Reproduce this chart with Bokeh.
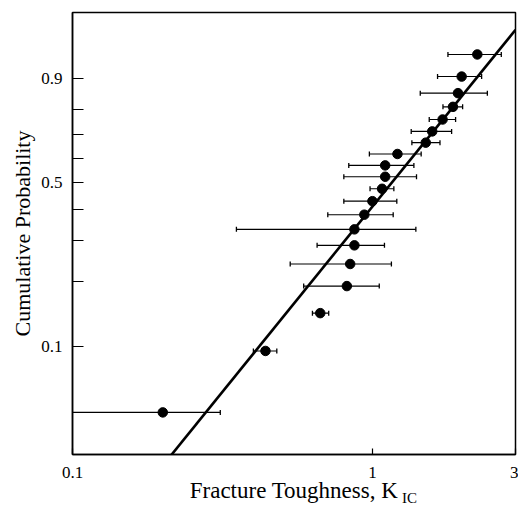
import numpy as np
from bokeh.plotting import figure
from bokeh.models import (ColumnDataSource, Range1d, FixedTicker, CustomJSTickFormatter,
                          Whisker, TeeHead, LogAxis)
from bokeh.embed import file_html
from bokeh.resources import INLINE

# ---- data ----
cum_prob = [0.048, 0.095, 0.143, 0.190, 0.238, 0.286, 0.333, 0.381, 0.429, 0.476,
            0.524, 0.571, 0.619, 0.667, 0.714, 0.762, 0.810, 0.857, 0.905, 0.952]
k_ic = [0.200, 0.440, 0.670, 0.822, 0.843, 0.871, 0.871, 0.940, 1.000, 1.077,
        1.103, 1.103, 1.212, 1.506, 1.583, 1.714, 1.856, 1.929, 1.984, 2.238]
k_ic_low = [0.090, 0.401, 0.631, 0.590, 0.532, 0.654, 0.352, 0.710, 0.803, 0.982,
            0.803, 0.834, 0.977, 1.354, 1.347, 1.547, 1.719, 1.444, 1.649, 1.786]
k_ic_high = [0.311, 0.480, 0.715, 1.054, 1.157, 1.097, 1.396, 1.173, 1.206, 1.179,
             1.403, 1.375, 1.454, 1.680, 1.837, 1.894, 1.999, 2.417, 2.313, 2.690]

prob_major_ticks = [0.1, 0.5, 0.9]
prob_minor_ticks = [0.2, 0.3, 0.4, 0.6, 0.7, 0.8]
k_ticks = [0.1, 1, 3]

x_title = "Fracture Toughness, K"
x_title_sub = "IC"
y_title = "Cumulative Probability"

# Weibull fit line
weibull_modulus = 1.853
weibull_scale = 1.414
fit_k = [0.2, 3.0]

# axis limits (x in K_IC, y in ln(-ln(1-F)))
k_min, k_max = 0.1, 3.0
w_min, w_max = -3.497, 1.594


def wb(p):
    p = np.asarray(p, dtype=float)
    return np.log(-np.log(1.0 - p))


FONT = "Liberation Serif"

src = ColumnDataSource(dict(k=k_ic, lo=k_ic_low, hi=k_ic_high, w=wb(cum_prob)))

fit_x = np.asarray(fit_k, dtype=float)
fit_w = weibull_modulus * np.log(fit_x / weibull_scale)

p = figure(width=518, height=509, output_backend="svg", toolbar_location=None,
           x_axis_type="log", x_range=Range1d(k_min, k_max),
           y_range=Range1d(w_min, w_max),
           min_border_left=72, min_border_right=3, min_border_top=12,
           min_border_bottom=55)
p.background_fill_color = "white"
p.border_fill_color = "white"
p.outline_line_color = "black"
p.outline_line_width = 1.5
p.xgrid.grid_line_color = None
p.ygrid.grid_line_color = None

# fit line
p.line(fit_x, fit_w, line_color="black", line_width=2.6)

# error bars
head = dict(size=5, line_width=1.3, line_color="black")
p.add_layout(Whisker(source=src, base="w", lower="lo", upper="hi", dimension="width",
                     line_color="black", line_width=1.1,
                     lower_head=TeeHead(**head), upper_head=TeeHead(**head)))

# points
p.scatter("k", "w", source=src, size=9.5, marker="circle",
          fill_color="black", line_color="black")

# y axis (Weibull probability scale)
ya = p.yaxis[0]
ya.ticker = FixedTicker(ticks=list(wb(prob_major_ticks)),
                        minor_ticks=list(wb(prob_minor_ticks)))
ya.formatter = CustomJSTickFormatter(
    code="return (1 - Math.exp(-Math.exp(tick))).toFixed(1);")
ya.axis_line_width = 1.5
ya.major_tick_in = 11
ya.major_tick_out = 0
ya.minor_tick_in = 11
ya.minor_tick_out = 0
ya.major_tick_line_width = 1.2
ya.minor_tick_line_width = 1.2
ya.major_label_standoff = 10
ya.major_label_text_font = FONT
ya.major_label_text_font_size = "17px"
ya.major_label_text_color = "black"
ya.axis_label = y_title
ya.axis_label_text_font = FONT
ya.axis_label_text_font_size = "22px"
ya.axis_label_text_font_style = "normal"
ya.axis_label_text_color = "black"
ya.axis_label_standoff = 3

# x axis (log)
xa = p.xaxis[0]
xa.ticker = FixedTicker(ticks=k_ticks, minor_ticks=[])
xa.formatter = CustomJSTickFormatter(code="return String(Number(tick.toPrecision(3)));")
xa.axis_line_width = 1.5
xa.major_tick_in = 6
xa.major_tick_out = 0
xa.minor_tick_in = 0
xa.minor_tick_out = 0
xa.major_tick_line_width = 1.2
xa.major_label_standoff = 12
xa.major_label_text_font = FONT
xa.major_label_text_font_size = "17px"
xa.major_label_text_color = "black"
xa.axis_label = x_title
xa.axis_label_text_font = FONT
xa.axis_label_text_font_size = "23px"
xa.axis_label_text_font_style = "normal"
xa.axis_label_text_color = "black"
xa.axis_label_standoff = -3

# subscript of the x title, as the label of an extra (line-less) axis
sub_pos = 1.33      # K_IC value under the centre of the subscript
sub_ax = LogAxis(ticker=FixedTicker(ticks=[sub_pos], minor_ticks=[]),
                 formatter=CustomJSTickFormatter(code="return %r;" % x_title_sub))
sub_ax.axis_line_color = None
sub_ax.major_tick_line_color = None
sub_ax.minor_tick_line_color = None
sub_ax.major_tick_in = 0
sub_ax.major_tick_out = 0
sub_ax.major_label_standoff = -16
sub_ax.major_label_text_font = FONT
sub_ax.major_label_text_font_size = "15px"
sub_ax.major_label_text_color = "black"
p.add_layout(sub_ax, "below")

open("out.html", "w").write(file_html(p, INLINE))
